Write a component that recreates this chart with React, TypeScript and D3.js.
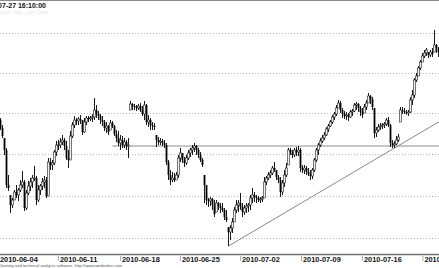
import React from "react";
import * as d3 from "d3";

// Hourly bars, price units (arbitrary chart units)
const highs = [182,175,162,152,125,105,102,110,115,112,120,129,120,110,119,122,125,134,124,115,116,122,124,123,142,142,140,150,159,160,162,165,162,159,150,169,178,184,182,183,185,180,182,184,184,184,186,202,195,189,186,184,180,178,175,180,179,175,170,169,165,164,162,160,162,199,197,196,195,196,197,194,199,196,185,182,178,177,165,163,162,161,160,157,140,130,128,127,128,145,152,147,143,145,150,152,155,157,155,152,148,142,125,115,102,103,102,100,100,98,97,97,92,90,73,75,82,93,100,100,107,97,95,97,97,105,112,108,105,104,103,104,123,124,128,130,134,138,130,125,123,120,130,137,152,152,150,152,153,154,152,135,135,134,132,130,132,142,152,157,162,165,168,173,176,180,185,188,195,200,199,192,189,188,187,190,191,197,198,197,194,192,196,200,207,205,203,192,173,176,177,177,178,182,183,176,160,159,164,166,193,193,192,190,190,203,210,222,227,234,240,247,250,252,248,250,252,270,256,253];
const lows = [170,162,145,112,109,87,92,100,102,99,108,112,89,90,105,109,112,119,95,98,105,110,112,102,104,130,130,135,144,150,152,155,150,140,132,140,162,172,175,175,176,165,167,175,178,179,178,180,182,180,176,174,169,167,165,170,172,164,158,154,150,152,152,150,142,190,190,190,189,190,188,184,180,175,173,170,170,170,153,155,155,154,152,135,120,115,118,118,120,122,138,137,133,135,140,143,145,148,145,142,138,133,97,95,93,94,90,83,88,90,87,88,80,78,54,60,67,78,87,88,90,83,85,87,88,90,97,98,97,98,97,98,102,115,120,122,125,128,120,117,103,105,113,123,135,145,142,143,144,144,128,127,126,125,124,120,121,128,138,145,153,157,160,164,168,173,176,180,184,192,187,182,181,180,179,182,184,188,190,188,184,182,187,190,197,196,190,162,163,168,170,171,172,174,173,153,152,152,155,158,178,186,186,185,184,187,195,202,218,224,230,238,242,244,242,243,243,248,247,243];
const closes = [172,164,150,115,112,95,100,108,105,110,115,118,92,107,114,118,122,122,100,110,114,118,120,104,138,135,137,148,155,155,158,160,154,142,140,164,175,180,179,181,180,168,178,182,181,182,183,190,186,184,180,178,172,174,168,177,174,166,162,157,160,155,158,154,155,196,194,193,192,194,190,186,195,178,180,175,174,173,160,158,159,157,155,138,125,120,122,120,125,142,147,140,137,142,147,150,152,154,150,145,140,135,115,100,99,101,95,86,97,94,92,90,83,80,68,72,78,90,95,97,93,88,92,94,95,102,105,103,102,100,101,102,118,122,125,127,132,130,123,120,108,117,125,132,150,148,145,150,148,150,132,130,132,128,126,124,130,140,150,155,159,162,165,171,174,178,183,186,192,197,190,186,184,185,183,188,189,195,196,192,188,185,193,197,204,201,193,167,170,173,174,175,176,180,175,157,155,156,160,163,190,189,188,187,188,200,205,220,224,232,238,244,247,250,245,248,246,255,252,248];

const gridLevels = [267, 227, 187, 146, 104, 62];
const dateLabels = ["2010-06-04", "2010-06-11", "2010-06-18", "2010-06-25", "2010-07-02", "2010-07-09", "2010-07-16", "2010-07-23"];
const dateTickIdx = [-1, 29, 60, 90, 120, 150.5, 181, 211.2];
const hLineLevel = 154;
const hLineStartIdx = 56;
const trendStart = [114, 54];
const trendEnd = [219, 178];
const title = "2010-07-27 16:10:00";
const footer = "Charting and technical analysis software. http://www.amibroker.com";

const W = 439;
const H = 268;

export default function App() {
  const x = d3.scaleLinear().domain([0, 219]).range([0.5, 438.5]);
  const y = d3.scaleLinear().domain([32, 300]).range([268, 0]);
  const font = "'Liberation Sans', Arial, sans-serif";

  const bars = closes.map((c, i) => {
    const hi = highs[i];
    const lo = lows[i];
    const prev = i === 0 ? 180 : closes[i - 1];
    const o = Math.max(lo, Math.min(hi, prev));
    return { i, o, h: hi, l: lo, c };
  });

  const slope = (trendEnd[1] - trendStart[1]) / (trendEnd[0] - trendStart[0]);
  const xEndIdx = x.invert(W);
  const trendEndVal = trendStart[1] + slope * (xEndIdx - trendStart[0]);

  return (
    <svg width={W} height={H} style={{ position: "fixed", left: 0, top: 0, background: "#fff" }}>
      <rect x={0} y={0} width={W} height={H} fill="#fff" />
      <line x1={0} x2={W} y1={0.5} y2={0.5} stroke="#8a8a8a" strokeWidth={1.2} />
      {gridLevels.map((g, k) => (
        <line key={k} x1={0} x2={W} y1={Math.round(y(g)) + 0.5} y2={Math.round(y(g)) + 0.5}
          stroke="#b8b8b8" strokeWidth={1} strokeDasharray="1,2" />
      ))}
      <line x1={x(hLineStartIdx)} x2={W} y1={y(hLineLevel)} y2={y(hLineLevel)} stroke="#8c8c8c" strokeWidth={1} />
      <line x1={x(trendStart[0])} y1={y(trendStart[1])} x2={W} y2={y(trendEndVal)} stroke="#7a7a7a" strokeWidth={0.9} />
      {bars.map((b) => {
        const cx = x(b.i);
        const up = b.c >= b.o;
        const top = y(Math.max(b.o, b.c));
        const bot = y(Math.min(b.o, b.c));
        return (
          <g key={b.i}>
            <line x1={cx} x2={cx} y1={y(b.h)} y2={y(b.l)} stroke="#1a1a1a" strokeWidth={1} />
            <rect x={cx - 0.9} y={top} width={1.8} height={Math.max(0.8, bot - top)}
              fill={up ? "#eee" : "#000"} stroke={up ? "#222" : "none"} strokeWidth={0.6} />
          </g>
        );
      })}
      <text x={46} y={8} textAnchor="end" fontFamily={font} fontWeight="bold" fontSize={7} fill="#111">{title}</text>
      <text x={0} y={13.5} fontFamily={font} fontSize={4.5} fill="#dfe6f3">Open, High, Low, Close</text>
      <line x1={0} x2={W} y1={254.5} y2={254.5} stroke="#707070" strokeWidth={1.3} />
      {dateLabels.map((d, k) => {
        const tx = x(dateTickIdx[k]);
        return (
          <g key={d}>
            <line x1={tx} x2={tx} y1={256} y2={261} stroke="#999" strokeWidth={0.8} />
            <text x={tx + 1.5} y={262} fontFamily={font} fontWeight="bold" fontSize={7.4} fill="#111">{d}</text>
          </g>
        );
      })}
      <text x={-2} y={266.5} fontFamily={font} fontSize={4.2} fill="#555" textLength={124} lengthAdjust="spacingAndGlyphs">{footer}</text>
    </svg>
  );
}
